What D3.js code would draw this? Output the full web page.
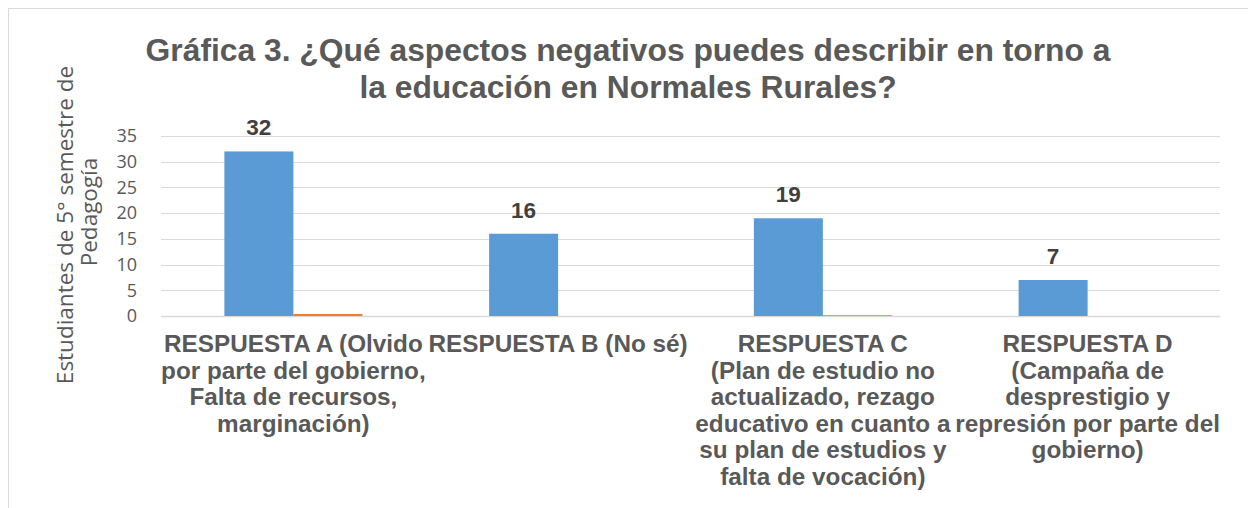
<!DOCTYPE html>
<html>
<head>
<meta charset="utf-8">
<script src="https://cdn.jsdelivr.net/npm/d3@7"></script>
<style>
  body { margin: 0; background: #fff; }
  svg { display: block; }
</style>
</head>
<body>
<svg width="1248" height="508"></svg>
<script>
// chart data
var categories = ['A', 'B', 'C', 'D'];
var categoryLabels = [
  ['RESPUESTA A (Olvido', 'por parte del gobierno,', 'Falta de recursos,', 'marginación)'],
  ['RESPUESTA B (No sé)'],
  ['RESPUESTA C', '(Plan de estudio no', 'actualizado, rezago', 'educativo en cuanto a', 'su plan de estudios y', 'falta de vocación)'],
  ['RESPUESTA D', '(Campaña de', 'desprestigio y', 'represión por parte del', 'gobierno)']
];
var seriesNames = ['s1', 's2'];
var series1 = [32, 16, 19, 7];
var series2 = [0.4, 0, 0.15, 0];
var yTicks = [0, 5, 10, 15, 20, 25, 30, 35];
var titleLines = ['Gráfica 3. ¿Qué aspectos negativos puedes describir en torno a', 'la educación en Normales Rurales?'];
var yTitleLines = ['Estudiantes de 5° semestre de', 'Pedagogía'];

function drawChart() {
  var svg = d3.select('svg');
  var plotLeft = 161, plotRight = 1220, plotTop = 136, plotBottom = 316;
  var boldFont = '"Liberation Sans", Arial, sans-serif';
  var lightFont = '"Open Sans", sans-serif';

  // chart frame
  svg.append('path')
    .attr('d', 'M8.5,508 L8.5,8.5 L1248,8.5')
    .attr('fill', 'none')
    .attr('stroke', '#d9d9d9')
    .attr('stroke-width', 1);

  var x0 = d3.scaleBand().domain(categories).range([plotLeft, plotRight])
    .paddingInner(0.4787).paddingOuter(0.4787 / 2);
  var x1 = d3.scaleBand().domain(seriesNames).range([0, x0.bandwidth()]);
  var y = d3.scaleLinear().domain([0, 35]).range([plotBottom, plotTop]);
  var color = d3.scaleOrdinal().domain(seriesNames).range(['#5b9bd5', '#ed7d31']);

  // gridlines
  svg.append('g')
    .selectAll('line')
    .data(yTicks)
    .enter()
    .append('line')
    .attr('x1', plotLeft)
    .attr('x2', plotRight)
    .attr('y1', d => Math.round(y(d)) + 0.5)
    .attr('y2', d => Math.round(y(d)) + 0.5)
    .attr('stroke', '#d9d9d9')
    .attr('stroke-width', d => d === 0 ? 1.5 : 1);

  // y axis tick labels
  var yAxis = svg.append('g')
    .attr('transform', 'translate(' + plotLeft + ',0)')
    .call(d3.axisLeft(y).tickValues(yTicks).tickSize(0).tickPadding(24));
  yAxis.select('.domain').remove();
  yAxis.selectAll('text')
    .attr('fill', '#595959')
    .attr('font-family', lightFont)
    .attr('font-size', '18px');

  // bars
  var rows = categories.map(function(c, i) {
    return { cat: c, values: [{ key: 's1', v: series1[i] }, { key: 's2', v: series2[i] }] };
  });

  var groups = svg.selectAll('g.cat')
    .data(rows)
    .enter()
    .append('g')
    .attr('class', 'cat')
    .attr('transform', d => 'translate(' + x0(d.cat) + ',0)');

  groups.selectAll('rect')
    .data(d => d.values)
    .enter()
    .append('rect')
    .attr('x', d => x1(d.key))
    .attr('y', d => y(d.v))
    .attr('width', x1.bandwidth())
    .attr('height', d => y(0) - y(d.v))
    .attr('fill', d => color(d.key));

  // data labels (first series)
  groups.append('text')
    .attr('x', x1('s1') + x1.bandwidth() / 2)
    .attr('y', (d, i) => y(series1[i]) - 16)
    .attr('text-anchor', 'middle')
    .attr('font-family', boldFont)
    .attr('font-weight', 'bold')
    .attr('font-size', '22.5px')
    .attr('fill', '#404040')
    .text((d, i) => series1[i]);

  // category labels
  var catText = svg.append('g')
    .selectAll('text')
    .data(categories)
    .enter()
    .append('text')
    .attr('text-anchor', 'middle')
    .attr('font-family', boldFont)
    .attr('font-weight', 'bold')
    .attr('font-size', '24.3px')
    .attr('fill', '#595959');

  catText.selectAll('tspan')
    .data((d, i) => categoryLabels[i].map(t => ({ t: t, c: d })))
    .enter()
    .append('tspan')
    .attr('x', d => x0(d.c) + x0.bandwidth() / 2)
    .attr('y', (d, j) => 352 + j * 26.6)
    .text(d => d.t);

  // title
  svg.append('text')
    .attr('text-anchor', 'middle')
    .attr('font-family', boldFont)
    .attr('font-weight', 'bold')
    .attr('font-size', '31.8px')
    .attr('fill', '#595959')
    .selectAll('tspan')
    .data(titleLines)
    .enter()
    .append('tspan')
    .attr('x', 628)
    .attr('y', (d, i) => 61 + i * 37)
    .text(d => d);

  // y axis title
  svg.append('text')
    .attr('transform', 'translate(0,225) rotate(-90)')
    .attr('text-anchor', 'middle')
    .attr('font-family', lightFont)
    .attr('font-size', '22.5px')
    .attr('fill', '#595959')
    .selectAll('tspan')
    .data(yTitleLines)
    .enter()
    .append('tspan')
    .attr('x', (d, i) => i * 13)
    .attr('y', (d, i) => 73 + i * 24)
    .text(d => d);
}

drawChart();
</script>
</body>
</html>
